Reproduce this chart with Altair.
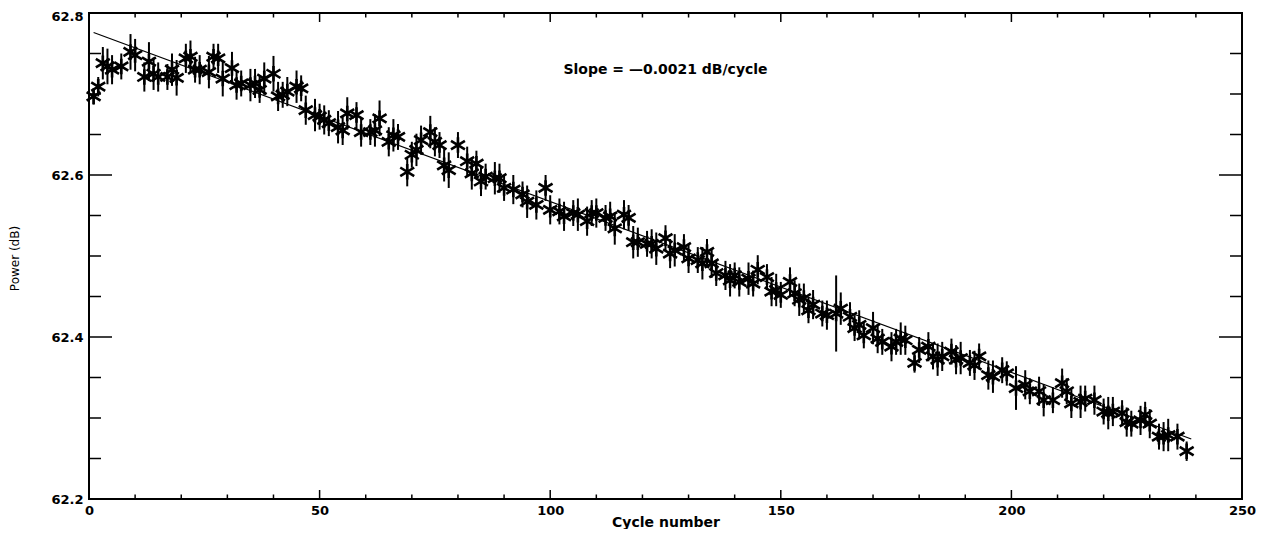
import altair as alt
import pandas as pd

# ---- data ----
cycle = [1, 2, 3, 4, 5, 7, 9, 10, 12, 13, 14, 15, 17, 18, 19, 21, 22, 23, 24, 26,
         27, 28, 29, 31, 32, 33, 35, 36, 37, 38, 40, 41, 42, 43, 45, 46, 47, 49, 50, 51,
         52, 54, 55, 56, 58, 59, 61, 62, 63, 65, 66, 67, 69, 70, 71, 72, 74, 75, 76, 77,
         78, 80, 82, 83, 84, 85, 86, 88, 89, 90, 92, 94, 95, 97, 99, 100,
         102, 103, 105, 106, 108, 109, 110, 112, 113, 114, 116, 117, 118, 119, 121, 122, 123, 125, 126, 127,
         129, 130, 132, 133, 134, 135, 136, 138, 139, 140, 141, 143, 144, 145, 147, 148, 149, 150,
         152, 153, 154, 155, 156, 157, 159, 160, 162, 163, 165, 166, 167, 168, 170, 171, 172, 174,
         175, 176, 177, 179, 180, 182, 183, 184, 185, 187, 188, 189, 191, 192, 193, 195, 196, 198, 199,
         201, 203, 204, 206, 207, 209, 211, 212, 213, 215, 216, 218, 220, 221, 222, 224, 225, 226, 228,
         229, 230, 232, 233, 234, 236, 238]

power = [62.697, 62.709, 62.738, 62.734, 62.730, 62.734, 62.752, 62.748, 62.721, 62.740,
         62.725, 62.721, 62.721, 62.730, 62.720, 62.744, 62.746, 62.730, 62.730, 62.727,
         62.746, 62.744, 62.719, 62.732, 62.711, 62.713, 62.711, 62.713, 62.705, 62.719,
         62.725, 62.697, 62.699, 62.703, 62.709, 62.707, 62.680, 62.674, 62.672, 62.668,
         62.664, 62.659, 62.655, 62.676, 62.674, 62.653, 62.653, 62.655, 62.670, 62.641,
         62.649, 62.647, 62.604, 62.625, 62.631, 62.643, 62.653, 62.641, 62.637, 62.612,
         62.606, 62.637, 62.617, 62.602, 62.614, 62.592, 62.598, 62.596, 62.596, 62.584,
         62.582, 62.576, 62.567, 62.563, 62.584, 62.557,
         62.555, 62.549, 62.553, 62.551, 62.543, 62.553, 62.553, 62.547, 62.549, 62.534,
         62.551, 62.547, 62.517, 62.517, 62.515, 62.515, 62.509, 62.522, 62.503, 62.507,
         62.511, 62.497, 62.495, 62.491, 62.505, 62.491, 62.479, 62.476, 62.470, 62.476,
         62.468, 62.472, 62.466, 62.483, 62.474, 62.456, 62.458, 62.452,
         62.468, 62.454, 62.446, 62.448, 62.433, 62.440, 62.429, 62.427, 62.429, 62.435,
         62.425, 62.411, 62.415, 62.402, 62.411, 62.398, 62.394, 62.388,
         62.394, 62.398, 62.396, 62.368, 62.384, 62.388, 62.376, 62.372, 62.376, 62.382,
         62.372, 62.374, 62.368, 62.365, 62.376, 62.353, 62.351, 62.359, 62.355,
         62.337, 62.341, 62.333, 62.333, 62.322, 62.322, 62.343, 62.333, 62.318, 62.320,
         62.324, 62.322, 62.308, 62.306, 62.308, 62.306, 62.295, 62.293, 62.297,
         62.304, 62.293, 62.277, 62.277, 62.279, 62.277, 62.259]

err = [0.010, 0.012, 0.020, 0.022, 0.018, 0.016, 0.022, 0.020, 0.018, 0.024,
       0.020, 0.018, 0.016, 0.020, 0.022, 0.018, 0.020, 0.016, 0.018, 0.020,
       0.016, 0.018, 0.022, 0.020, 0.018, 0.016, 0.020, 0.018, 0.016, 0.020,
       0.022, 0.018, 0.016, 0.018, 0.020, 0.016, 0.018, 0.020, 0.016, 0.018,
       0.016, 0.020, 0.018, 0.020, 0.016, 0.018, 0.016, 0.020, 0.022, 0.018,
       0.020, 0.016, 0.018, 0.016, 0.020, 0.018, 0.020, 0.018, 0.016, 0.020,
       0.022, 0.016, 0.018, 0.020, 0.016, 0.018, 0.016, 0.020, 0.018, 0.016,
       0.018, 0.016, 0.020, 0.018, 0.016, 0.018,
       0.016, 0.018, 0.016, 0.020, 0.018, 0.016, 0.018, 0.016, 0.018, 0.020,
       0.018, 0.016, 0.020, 0.018, 0.016, 0.018, 0.020, 0.016, 0.018, 0.020,
       0.016, 0.018, 0.016, 0.020, 0.016, 0.018, 0.016, 0.018, 0.020, 0.016,
       0.018, 0.020, 0.016, 0.018, 0.016, 0.018, 0.020, 0.016,
       0.018, 0.016, 0.020, 0.018, 0.016, 0.018, 0.016, 0.018, 0.047, 0.020,
       0.018, 0.016, 0.018, 0.016, 0.020, 0.018, 0.016, 0.018,
       0.016, 0.020, 0.018, 0.012, 0.016, 0.018, 0.016, 0.020, 0.018, 0.016,
       0.018, 0.020, 0.016, 0.018, 0.016, 0.018, 0.020, 0.016, 0.015,
       0.027, 0.018, 0.016, 0.018, 0.020, 0.016, 0.018, 0.016, 0.018, 0.020,
       0.016, 0.018, 0.016, 0.020, 0.018, 0.016, 0.018, 0.016, 0.018,
       0.016, 0.018, 0.016, 0.018, 0.020, 0.016, 0.012]

fit_cycle = [1, 239]
fit_power = [62.776, 62.274]

slope_text = "Slope = \u20140.0021 dB/cycle"
slope_pos = (125, 62.73)

x_major = [0, 50, 100, 150, 200, 250]
x_minor = [10, 20, 30, 40, 60, 70, 80, 90, 110, 120, 130, 140,
           160, 170, 180, 190, 210, 220, 230, 240]
y_major = [62.2, 62.4, 62.6, 62.8]
y_minor = [62.25, 62.3, 62.35, 62.45, 62.5, 62.55, 62.65, 62.7, 62.75]

# ---- chart ----
W, H = 1153, 486
FONT = "DejaVu Sans"

df = pd.DataFrame({"cycle": cycle, "power": power, "err": err})
df["lo"] = df["power"] - df["err"]
df["hi"] = df["power"] + df["err"]

xscale = alt.Scale(domain=[0, 250], nice=False, zero=False)
yscale = alt.Scale(domain=[62.2, 62.8], nice=False, zero=False)

xaxis = alt.Axis(values=x_major, format="d", ticks=False, domain=False, grid=False,
                 labelFont=FONT, labelFontWeight="bold", labelFontSize=13, labelColor="black",
                 labelPadding=5, title="Cycle number", titleFont=FONT, titleFontWeight="bold",
                 titleFontSize=14, titleColor="black", titleBaseline="alphabetic", titleY=27,
                 labelFlush=False)
yaxis = alt.Axis(values=y_major, format=".1f", ticks=False, domain=False, grid=False,
                 labelFont=FONT, labelFontWeight="bold", labelFontSize=13, labelColor="black",
                 labelPadding=6,
                 labelOffset={"condition": {"test": "datum.value > 62.79", "value": 3}, "value": 0},
                 title="Power   (dB)", titleFont=FONT, titleFontWeight="normal",
                 titleFontSize=12, titleColor="black", titleX=-68, titleY=H / 2 + 2,
                 titleBaseline="bottom", titleAngle=-90, labelFlush=False)


def X(f):
    return alt.X(f, type="quantitative", scale=xscale, axis=xaxis)


def Y(f):
    return alt.Y(f, type="quantitative", scale=yscale, axis=yaxis)


base = alt.Chart(df)

bars = base.mark_rule(color="black", strokeWidth=2).encode(
    x=X("cycle"), y=Y("lo"), y2="hi")

star = "M0,-1L0,1M-0.9,-0.55L0.9,0.55M-0.9,0.55L0.9,-0.55"
stars = base.mark_point(shape=star, size=240, filled=False, color="black",
                        strokeWidth=2.6, opacity=1).encode(x=X("cycle"), y=Y("power"))

fit = alt.Chart(pd.DataFrame({"cycle": fit_cycle, "power": fit_power})).mark_line(
    color="black", strokeWidth=1.2).encode(x=X("cycle"), y=Y("power"))

txt = alt.Chart(pd.DataFrame({"cycle": [slope_pos[0]], "power": [slope_pos[1]],
                              "t": [slope_text]})).mark_text(
    font=FONT, fontSize=14, fontWeight="bold", color="black", align="center",
    baseline="middle").encode(x=X("cycle"), y=Y("power"), text="t:N")

ydf_major = pd.DataFrame({"power": y_major})
ydf_minor = pd.DataFrame({"power": y_minor})
xdf_major = pd.DataFrame({"cycle": x_major})
xdf_minor = pd.DataFrame({"cycle": x_minor})


def yticks(d, x0, x1):
    return alt.Chart(d).mark_rule(color="black", strokeWidth=1.5).encode(
        y=Y("power"), x=alt.value(x0), x2=alt.value(x1))


def xticks(d, y0, y1):
    return alt.Chart(d).mark_rule(color="black", strokeWidth=1.5).encode(
        x=X("cycle"), y=alt.value(y0), y2=alt.value(y1))


ticks = [
    yticks(ydf_major, 0, 23), yticks(ydf_minor, 0, 12),
    yticks(ydf_major, W - 23, W), yticks(ydf_minor, W - 12, W),
    xticks(xdf_major, H, H - 9), xticks(xdf_minor, H, H - 4.5),
    xticks(xdf_major, 0, 9), xticks(xdf_minor, 0, 4.5),
]

chart = alt.layer(bars, stars, fit, txt, *ticks).properties(
    width=W, height=H,
    autosize=alt.AutoSizeParams(type="none"),
    padding={"left": 81, "top": 5, "right": 20, "bottom": 30},
    background="white",
).configure_view(stroke="black", strokeWidth=2)

chart.save("out.html", embed_options={"renderer": "svg", "actions": False})
